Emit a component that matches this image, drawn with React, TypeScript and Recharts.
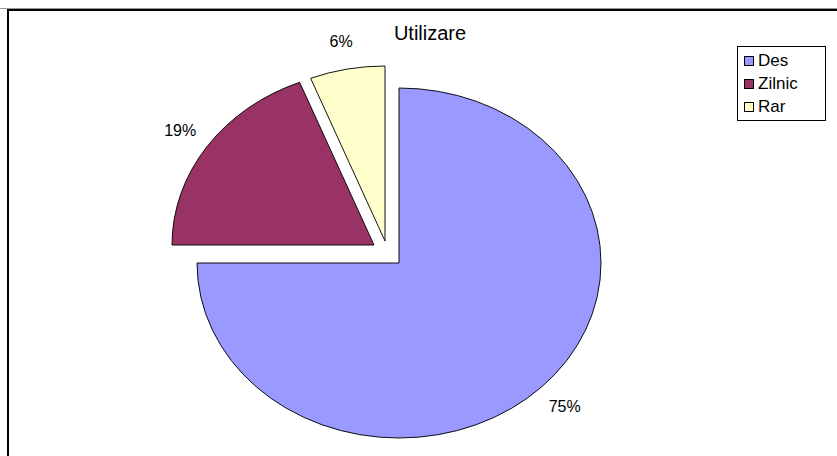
import { PieChart, Pie, Cell, Legend } from 'recharts'

const categories = ['Des', 'Zilnic', 'Rar']
const shares = [75, 19, 6]
const colors = ['#9999FF', '#993366', '#FFFFCC']

// pull-out of each slice in px (Excel "explosion")
const explode = [
  [0, 0],
  [-25, -18],
  [-14, -22],
]

const W = 837
const H = 456
const CX = 399
const CY = 263
const RX = 202
const RY = 175
const SY = RY / RX // Excel draws the pie as an ellipse
const FONT = '"Liberation Sans", Arial, sans-serif'

const data = categories.map((name, i) => ({ name, value: shares[i] }))

function renderLabel(props: any) {
  const { cx, cy, midAngle, outerRadius, percent, index } = props
  const [dx, dy] = explode[index]
  const rad = (midAngle * Math.PI) / 180
  const r = outerRadius * 1.16
  const x = cx + dx + r * Math.cos(rad)
  const y = cy + dy - r * SY * Math.sin(rad)
  return (
    <text
      x={x}
      y={y}
      textAnchor="middle"
      dominantBaseline="central"
      fontSize={16}
      fontFamily={FONT}
      fill="#000"
    >
      {`${Math.round(percent * 100)}%`}
    </text>
  )
}

function LegendBox({ payload }: any) {
  // keep the data order, not the alphabetical one
  const items = [...(payload ?? [])].sort(
    (a: any, b: any) => categories.indexOf(a.value) - categories.indexOf(b.value),
  )
  return (
    <div
      style={{
        boxSizing: 'border-box',
        width: 89,
        border: '1px solid #000',
        background: '#fff',
        padding: '2px 0 2px 6px',
        fontFamily: FONT,
        fontSize: 17,
        color: '#000',
      }}
    >
      {items.map((p: any) => (
        <div key={p.value} style={{ display: 'flex', alignItems: 'center', height: 23 }}>
          <span
            style={{
              display: 'inline-block',
              width: 8,
              height: 8,
              border: '1px solid #000',
              background: colors[categories.indexOf(p.value)],
              marginRight: 4,
            }}
          />
          {p.value}
        </div>
      ))}
    </div>
  )
}

export default function App() {
  return (
    <div style={{ position: 'absolute', left: 0, top: 0, width: W, height: H, background: '#fff', overflow: 'hidden' }}>
      {/* chart area frame, only top and left edges visible */}
      <div style={{ position: 'absolute', left: 0, top: 8, width: W, height: 1, background: '#999' }} />
      <div
        style={{
          position: 'absolute',
          left: 7,
          top: 9,
          width: W,
          height: H,
          borderTop: '2px solid #000',
          borderLeft: '2px solid #000',
        }}
      />
      <div
        style={{
          position: 'absolute',
          left: 330,
          width: 200,
          top: 22,
          textAlign: 'center',
          fontFamily: FONT,
          fontSize: 20,
          color: '#000',
        }}
      >
        Utilizare
      </div>
      <div style={{ position: 'absolute', left: 0, top: 0 }}>
        <PieChart width={W} height={H} margin={{ top: 0, right: 0, bottom: 0, left: 0 }}>
          <Pie
            data={data}
            dataKey="value"
            nameKey="name"
            cx={CX}
            cy={CY}
            outerRadius={RX}
            startAngle={90}
            endAngle={-270}
            stroke="#000"
            strokeWidth={1}
            label={renderLabel}
            labelLine={false}
            isAnimationActive={false}
          >
            {data.map((d, i) => (
              <Cell
                key={d.name}
                fill={colors[i]}
                stroke="#000"
                style={{
                  transform: `translate(${explode[i][0]}px, ${explode[i][1]}px) scaleY(${SY})`,
                  transformOrigin: `${CX}px ${CY}px`,
                  transformBox: 'view-box',
                }}
              />
            ))}
          </Pie>
          <Legend
            layout="vertical"
            align="right"
            verticalAlign="top"
            content={<LegendBox />}
            wrapperStyle={{ left: 737, top: 46, width: 89, right: 'auto' }}
          />
        </PieChart>
      </div>
    </div>
  )
}
